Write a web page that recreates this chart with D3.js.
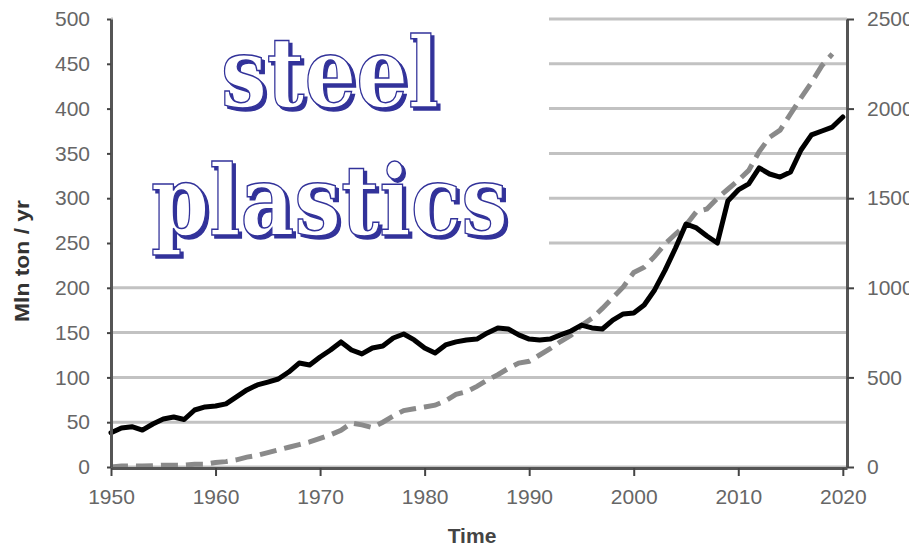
<!DOCTYPE html>
<html>
<head>
<meta charset="utf-8">
<script src="https://cdn.jsdelivr.net/npm/d3@7"></script>
<style>
  html, body { margin: 0; padding: 0; background: #fff; }
  svg { display: block; }
</style>
</head>
<body>
<svg id="chart" width="909" height="549"></svg>
<script>
// ---------- data ----------
const years = [1950,1951,1952,1953,1954,1955,1956,1957,1958,1959,
  1960,1961,1962,1963,1964,1965,1966,1967,1968,1969,
  1970,1971,1972,1973,1974,1975,1976,1977,1978,1979,
  1980,1981,1982,1983,1984,1985,1986,1987,1988,1989,
  1990,1991,1992,1993,1994,1995,1996,1997,1998,1999,
  2000,2001,2002,2003,2004,2005,2006,2007,2008,2009,
  2010,2011,2012,2013,2014,2015,2016,2017,2018,2019,2020];

// steel production (right axis, Mln ton / yr)
const steel = [191,218,225,206,240,268,279,265,318,335,
  340,352,391,430,458,474,491,530,580,569,
  614,653,698,653,631,664,675,720,742,709,
  664,636,681,698,709,714,748,776,770,737,
  714,709,714,737,759,792,776,770,820,854,
  859,904,988,1099,1222,1356,1334,1289,1250,1484,
  1546,1580,1669,1635,1618,1646,1769,1853,1875,1897,1953];

// plastics production (left axis, Mln ton / yr), 1950-2019
const plastics = [0,1,1,1,1.5,2,2,2,3,3,
  5,6,8,11,13,16,19,22,25,28,
  32,36,41,49,47,44,50,57,63,65,
  67,69,74,81,84,90,97,103,110,116,
  118,125,132,140,147,158,166,177,189,201,
  217,223,235,249,260,270,285,288,300,310,
  320,331,352,368,376,394,412,429,448,461];

const leftTicks = [0,50,100,150,200,250,300,350,400,450,500];
const rightTicks = [0,500,1000,1500,2000,2500];
const xTicks = [1950,1960,1970,1980,1990,2000,2010,2020];
const titleLines = ["steel", "plastics"];
const yAxisTitle = "Mln ton / yr";
const xAxisTitle = "Time";

// ---------- drawing ----------
const svg = d3.select("#chart");
const FONT = "'Liberation Sans', Arial, sans-serif";
const blue = "#33339a";

const defs = svg.append("defs");
const f = defs.append("filter").attr("id", "shadow")
  .attr("x", "-10%").attr("y", "-10%").attr("width", "120%").attr("height", "130%");
f.append("feDropShadow").attr("dx", 3).attr("dy", 3).attr("stdDeviation", 0)
  .attr("flood-color", blue).attr("flood-opacity", 1);

const x = d3.scaleLinear().domain([1950, 2020.4]).range([111, 847]);
const yL = d3.scaleLinear().domain([0, 500]).range([467, 19]);
const yR = d3.scaleLinear().domain([0, 2500]).range([467, 19]);

svg.append("rect").attr("width", 909).attr("height", 549).attr("fill", "#fff");

// gridlines
svg.append("g").selectAll("line").data(leftTicks).join("line")
  .attr("x1", x.range()[0]).attr("x2", x.range()[1])
  .attr("y1", d => yL(d)).attr("y2", d => yL(d))
  .attr("stroke", "#c2c2c2").attr("stroke-width", 3);

// white panel behind the big words
svg.append("rect").attr("x", 113).attr("y", 0).attr("width", 436).attr("height", 281).attr("fill", "#fff");

// plastics (dashed)
const plastData = plastics.map((v, i) => [years[i], v]);
svg.append("path").datum(plastData)
  .attr("fill", "none").attr("stroke", "#8a8a8a").attr("stroke-width", 5)
  .attr("stroke-dasharray", "17,8")
  .attr("d", d3.line().x(d => x(d[0])).y(d => yL(d[1])));

// steel (solid)
const steelData = steel.map((v, i) => [years[i], v]);
svg.append("path").datum(steelData)
  .attr("fill", "none").attr("stroke", "#000").attr("stroke-width", 5)
  .attr("stroke-linejoin", "round").attr("stroke-linecap", "round")
  .attr("d", d3.line().x(d => x(d[0])).y(d => yR(d[1])));

// axes
function styleAxis(g) {
  g.select(".domain").attr("stroke", "#555").attr("stroke-width", 3);
  g.selectAll(".tick line").attr("stroke", "#444").attr("stroke-width", 2);
  g.selectAll(".tick text").attr("fill", "#666").style("font-family", FONT).style("font-size", "21px");
}

svg.append("g").attr("transform", "translate(111,0)")
  .call(d3.axisLeft(yL).tickValues(leftTicks).tickFormat(d3.format("d")).tickSize(4).tickSizeOuter(0).tickPadding(17))
  .call(styleAxis);

svg.append("g").attr("transform", "translate(847,0)")
  .call(d3.axisRight(yR).tickValues(rightTicks).tickFormat(d3.format("d")).tickSize(7).tickSizeOuter(0).tickPadding(13))
  .call(styleAxis);

svg.append("g").attr("transform", "translate(0,468)")
  .call(d3.axisBottom(x).tickValues(xTicks).tickFormat(d3.format("d")).tickSize(8).tickSizeOuter(0).tickPadding(13))
  .call(styleAxis);

// axis titles
svg.append("text")
  .attr("transform", "translate(29,261) rotate(-90)")
  .attr("text-anchor", "middle")
  .attr("textLength", 122).attr("lengthAdjust", "spacingAndGlyphs")
  .style("font-family", FONT).style("font-size", "21px").style("font-weight", "bold")
  .attr("fill", "#333").text(yAxisTitle);

svg.append("text")
  .attr("x", 472).attr("y", 543).attr("text-anchor", "middle")
  .style("font-family", FONT).style("font-size", "21px").style("font-weight", "bold")
  .attr("fill", "#444").text(xAxisTitle);

// big outlined words with a solid offset shadow
const words = [
  {t: titleLines[0], x: 221, y: 107, len: 218},
  {t: titleLines[1], x: 151, y: 235, len: 357}
];
const SERIF = "'DejaVu Serif', 'Liberation Serif', serif";
words.forEach(w => {
  svg.append("text").attr("x", w.x).attr("y", w.y)
    .attr("textLength", w.len).attr("lengthAdjust", "spacingAndGlyphs")
    .style("font-family", SERIF).style("font-size", "98px").style("font-weight", "bold")
    .attr("fill", "#fff").attr("stroke", blue).attr("stroke-width", 1.5)
    .attr("filter", "url(#shadow)").text(w.t);
});
</script>
</body>
</html>
